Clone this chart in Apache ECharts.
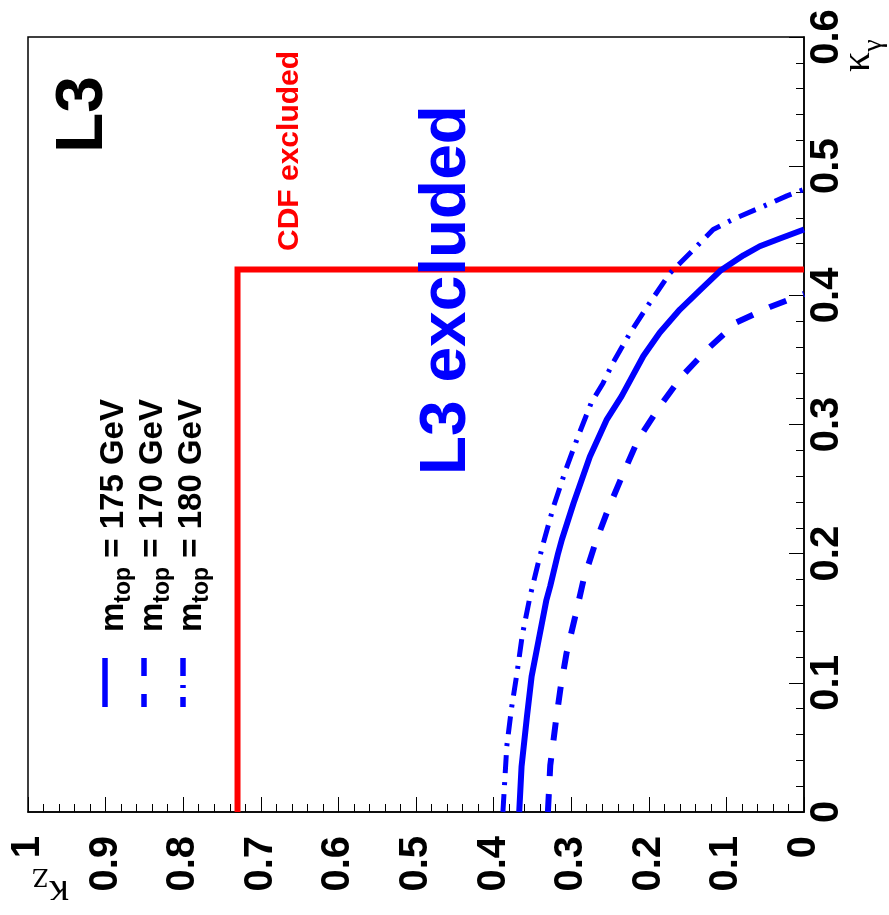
<!DOCTYPE html>
<html><head><meta charset="utf-8">
<script src="https://cdn.jsdelivr.net/npm/echarts@6/dist/echarts.min.js"></script>
<style>html,body{margin:0;padding:0;background:#fff}#c{width:889px;height:915px}</style>
</head><body><div id="c"></div>
<script>
// tick labels
const kzTickLabels = ['0','0.1','0.2','0.3','0.4','0.5','0.6','0.7','0.8','0.9','1'];
const kgTickLabels = ['0','0.1','0.2','0.3','0.4','0.5','0.6'];

// m_top = 175 GeV (solid)
const kz175 = [0.367,0.364,0.357,0.351,0.342,0.332,0.327,0.317,0.312,0.297,0.276,0.254,0.235,0.207,0.186,0.160,0.134,0.108,0.078,0.057,0.031,0.0];
const kg175 = [0.000,0.035,0.074,0.105,0.133,0.164,0.175,0.200,0.211,0.239,0.275,0.304,0.322,0.353,0.371,0.389,0.404,0.419,0.431,0.438,0.444,0.451];

// m_top = 170 GeV (dashed)
const kz170 = [0.330,0.327,0.320,0.314,0.306,0.295,0.284,0.269,0.252,0.233,0.214,0.186,0.158,0.125,0.087,0.044,0.0];
const kg170 = [0.000,0.036,0.069,0.095,0.123,0.151,0.180,0.208,0.235,0.262,0.288,0.314,0.337,0.358,0.379,0.391,0.401];

// m_top = 180 GeV (dash-dot)
const kz180 = [0.388,0.383,0.377,0.370,0.363,0.353,0.342,0.336,0.323,0.307,0.291,0.274,0.259,0.246,0.224,0.199,0.173,0.143,0.117,0.091,0.052,0.022,0.0];
const kg180 = [0.000,0.051,0.080,0.107,0.137,0.167,0.194,0.208,0.236,0.265,0.291,0.317,0.332,0.348,0.371,0.394,0.417,0.435,0.451,0.459,0.469,0.477,0.482];

// CDF excluded boundary
const kzCDF = [0.73,0.73,0.0];
const kgCDF = [0.0,0.42,0.42];

const legendLabels = ['175','170','180'];

const pairs = (a,b) => a.map((v,i)=>[v,b[i]]);
const SANS = '"Liberation Sans", Arial, Helvetica, sans-serif';
const SERIF = '"Liberation Serif", "Times New Roman", serif';
const BLUE = '#0000ff', RED = '#ff0000';

const chart = echarts.init(document.getElementById('c'), null, {renderer:'canvas'});

const axisCommon = {
  type:'value',
  axisLine:{show:true,lineStyle:{color:'#000',width:1.5}},
  axisTick:{show:true,inside:true,length:15,lineStyle:{color:'#000',width:1}},
  minorTick:{show:true,splitNumber:5,length:8,lineStyle:{color:'#000',width:1}},
  splitLine:{show:false},
  minorSplitLine:{show:false}
};

const legendRich = {
  m:{fontFamily:SANS,fontWeight:'bold',fontSize:33,lineHeight:42,color:'#000'},
  s:{fontFamily:SANS,fontWeight:'bold',fontSize:23,lineHeight:23,verticalAlign:'bottom',color:'#000'}
};
const titleRich = {
  m:{fontFamily:SERIF,fontSize:40,lineHeight:58,color:'#000'},
  s:{fontFamily:SERIF,fontSize:28,lineHeight:28,verticalAlign:'bottom',color:'#000'}
};

const legendX = [105,144,183];
const legendDash = ['solid',[18,18],[18,9,3,9]];
const graphics = [];
legendLabels.forEach((lab,i)=>{
  graphics.push({type:'line',z:100,shape:{x1:legendX[i],y1:658,x2:legendX[i],y2:707},
    style:{stroke:BLUE,lineWidth:5.5,lineDash:legendDash[i]==='solid'?null:legendDash[i]}});
  graphics.push({type:'text',z:100,x:legendX[i]+9,y:632,rotation:Math.PI/2,
    style:{text:'{m|m}{s|top}{m| = '+lab+' GeV}',rich:legendRich,align:'left',verticalAlign:'middle'}});
});
graphics.push({type:'text',z:100,x:84,y:153,rotation:Math.PI/2,
  style:{text:'L3',fill:'#000',font:'bold 66px '+SANS,align:'left',verticalAlign:'middle'}});
graphics.push({type:'text',z:100,x:289.5,y:251,rotation:Math.PI/2,
  style:{text:'CDF excluded',fill:RED,font:'bold 30px '+SANS,align:'left',verticalAlign:'middle'}});
graphics.push({type:'text',z:100,x:447.6,y:475,rotation:Math.PI/2,
  style:{text:'L3 excluded',fill:BLUE,font:'bold 64px '+SANS,align:'left',verticalAlign:'middle'}});
graphics.push({type:'text',z:100,x:858.4,y:72,rotation:Math.PI/2,
  style:{text:'{m|κ}{s|γ}',rich:titleRich,align:'left',verticalAlign:'middle'}});
graphics.push({type:'text',z:100,x:69,y:891.6,rotation:Math.PI,
  style:{text:'{m|κ}{s|Z}',rich:titleRich,align:'left',verticalAlign:'middle'}});

const option = {
  animation:false,
  backgroundColor:'#fff',
  grid:{left:28,right:85,top:37,bottom:103,show:true,borderColor:'#000',borderWidth:1.5,containLabel:false},
  xAxis:Object.assign({},axisCommon,{
    min:0,max:1,interval:0.1,inverse:true,position:'bottom',
    axisLabel:{rotate:90,margin:24,fontFamily:SANS,fontWeight:'bold',fontSize:40,color:'#000',
      showMinLabel:true,showMaxLabel:true,hideOverlap:false,
      formatter:v=>kzTickLabels[Math.round(v*10)]}
  }),
  yAxis:Object.assign({},axisCommon,{
    min:0,max:0.6,interval:0.1,position:'right',
    axisLabel:{rotate:90,margin:3,fontFamily:SANS,fontWeight:'bold',fontSize:40,color:'#000',
      showMinLabel:true,showMaxLabel:true,hideOverlap:false,
      formatter:v=>kgTickLabels[Math.round(v*10)]}
  }),
  series:[
    {type:'line',name:'CDF',data:pairs(kzCDF,kgCDF),showSymbol:false,symbol:'none',z:2,
      lineStyle:{color:RED,width:6,type:'solid',cap:'butt',join:'miter'}},
    {type:'line',name:'175',data:pairs(kz175,kg175),showSymbol:false,symbol:'none',z:3,
      lineStyle:{color:BLUE,width:6,type:'solid'}},
    {type:'line',name:'170',data:pairs(kz170,kg170),showSymbol:false,symbol:'none',z:3,
      lineStyle:{color:BLUE,width:6,type:[18,18],cap:'butt'}},
    {type:'line',name:'180',data:pairs(kz180,kg180),showSymbol:false,symbol:'none',z:3,
      lineStyle:{color:BLUE,width:5,type:[18,9,3,9],cap:'butt'}}
  ],
  graphic:graphics
};
chart.setOption(option);
</script></body></html>
